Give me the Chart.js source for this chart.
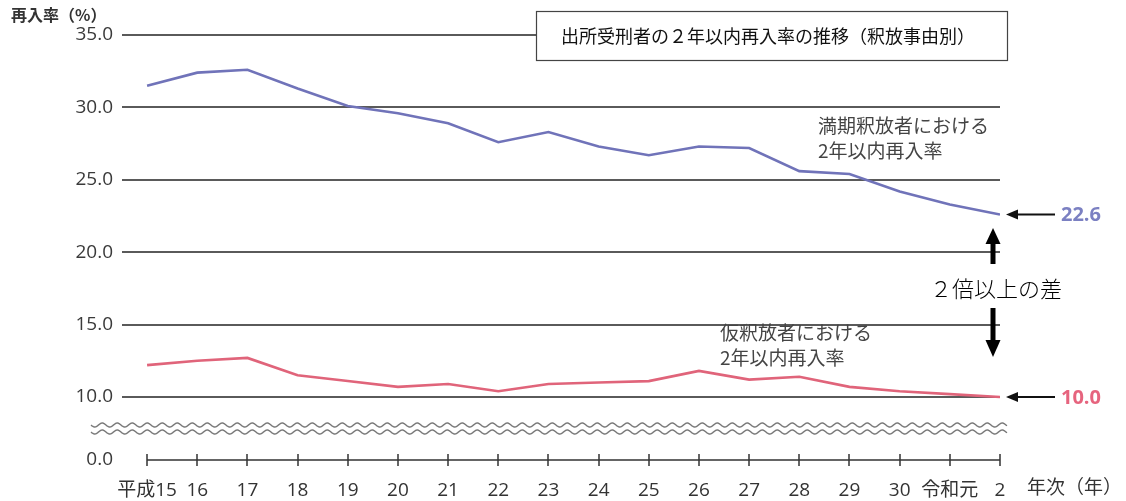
<!DOCTYPE html>
<html><head><meta charset="utf-8">
<script src="https://cdn.jsdelivr.net/npm/chart.js@4"></script>
<style>html,body{margin:0;padding:0;background:#fff}</style>
</head><body>
<canvas id="c" width="1126" height="501"></canvas>
<script>
const years = ['平成15','16','17','18','19','20','21','22','23','24','25','26','27','28','29','30','令和元','2'];
const expiryRates = [31.5,32.4,32.6,31.3,30.1,29.6,28.9,27.6,28.3,27.3,26.7,27.3,27.2,25.6,25.4,24.2,23.3,22.6];
const paroleRates = [12.2,12.5,12.7,11.5,11.1,10.7,10.9,10.4,10.9,11.0,11.1,11.8,11.2,11.4,10.7,10.4,10.2,10.0];
const yTickValues = [10,15,20,25,30,35];
const yBreakBottom = 5.65; // where "0.0" sits after the axis break
const yMax = 35;

const FONT = '"Open Sans","Noto Sans CJK JP",sans-serif';
const JFONT = '"Noto Sans CJK JP",sans-serif';
const BLUE = '#7073b9';
const RED = '#e0647a';

const deco = {
  id: 'deco',
  beforeDatasetsDraw(chart) {
    const {ctx, scales: {x, y}} = chart;
    const yb = y.getPixelForValue(yBreakBottom);
    const y10 = y.getPixelForValue(10);
    const mid = (yb + y10) / 2;
    ctx.save();
    // wavy break lines
    ctx.strokeStyle = '#777';
    ctx.lineWidth = 1.4;
    [mid - 3.5, mid + 3.5].forEach(cy => {
      ctx.beginPath();
      for (let px = 91; px <= 1007; px += 0.5) {
        const py = cy + 2 * Math.sin((px - 91) / 15 * Math.PI * 2);
        if (px === 91) ctx.moveTo(px, py); else ctx.lineTo(px, py);
      }
      ctx.stroke();
    });
    // x axis line with ticks
    ctx.strokeStyle = '#333';
    ctx.lineWidth = 1.5;
    const x0 = x.getPixelForValue(0), x1 = x.getPixelForValue(years.length - 1);
    ctx.beginPath();
    ctx.moveTo(x0, yb); ctx.lineTo(x1, yb);
    years.forEach((_, i) => {
      const px = Math.round(x.getPixelForValue(i));
      ctx.moveTo(px, yb - 6); ctx.lineTo(px, yb + 6);
    });
    ctx.stroke();
    ctx.restore();
  },
  afterDraw(chart) {
    const {ctx, scales: {x, y}} = chart;
    ctx.save();
    // axis title
    ctx.fillStyle = '#333';
    ctx.font = 'bold 16px ' + JFONT;
    ctx.textBaseline = 'middle';
    ctx.textAlign = 'left';
    ctx.fillText('再入率（%）', 11, 15);
    // x axis unit
    ctx.font = '19px ' + JFONT;
    ctx.fillText('年次（年）', 1027, 487);
    // title box
    ctx.fillStyle = '#fff';
    ctx.fillRect(536, 11, 471, 49);
    ctx.strokeStyle = '#444';
    ctx.lineWidth = 1.2;
    ctx.strokeRect(536.5, 11.5, 471, 49);
    ctx.fillStyle = '#111';
    ctx.font = '18px ' + JFONT;
    ctx.textAlign = 'center';
    ctx.fillText('出所受刑者の２年以内再入率の推移（釈放事由別）', 768, 36);
    // series annotations
    ctx.textAlign = 'left';
    ctx.fillStyle = '#444';
    ctx.font = '19px ' + JFONT;
    ctx.fillText('満期釈放者における', 818, 126);
    ctx.fillText('2年以内再入率', 818, 151);
    ctx.fillText('仮釈放者における', 720, 333);
    ctx.fillText('2年以内再入率', 720, 358);

    const last = years.length - 1;
    const xe = x.getPixelForValue(last);
    const drawLeftArrow = (yv, label, color) => {
      const py = y.getPixelForValue(yv);
      ctx.strokeStyle = '#111';
      ctx.fillStyle = '#111';
      ctx.lineWidth = 2;
      ctx.beginPath(); ctx.moveTo(xe + 14, py); ctx.lineTo(xe + 55, py); ctx.stroke();
      ctx.beginPath(); ctx.moveTo(xe + 6, py); ctx.lineTo(xe + 18, py - 5); ctx.lineTo(xe + 18, py + 5); ctx.closePath(); ctx.fill();
      ctx.fillStyle = color;
      ctx.font = 'bold 20px ' + FONT;
      ctx.textAlign = 'left';
      ctx.fillText(label, xe + 61, py + 1);
    };
    drawLeftArrow(expiryRates[last], expiryRates[last].toFixed(1), '#7b80c2');
    drawLeftArrow(paroleRates[last], paroleRates[last].toFixed(1), '#e6647e');

    // vertical arrows
    const ax = 993;
    ctx.fillStyle = '#000';
    ctx.strokeStyle = '#000';
    ctx.lineWidth = 5;
    ctx.beginPath(); ctx.moveTo(ax, 242); ctx.lineTo(ax, 264); ctx.stroke();
    ctx.beginPath(); ctx.moveTo(ax, 228); ctx.lineTo(ax - 7.5, 244); ctx.lineTo(ax + 7.5, 244); ctx.closePath(); ctx.fill();
    ctx.beginPath(); ctx.moveTo(ax, 308); ctx.lineTo(ax, 342); ctx.stroke();
    ctx.beginPath(); ctx.moveTo(ax, 357); ctx.lineTo(ax - 7.5, 340); ctx.lineTo(ax + 7.5, 340); ctx.closePath(); ctx.fill();
    ctx.font = '300 22px ' + JFONT;
    ctx.textAlign = 'center';
    ctx.fillText('２倍以上の差', 996, 289);
    ctx.restore();
  }
};

new Chart(document.getElementById('c'), {
  type: 'line',
  data: {
    datasets: [
      {label: '満期釈放者', data: expiryRates.map((v, i) => ({x: i, y: v})), borderColor: BLUE, borderWidth: 2.6},
      {label: '仮釈放者', data: paroleRates.map((v, i) => ({x: i, y: v})), borderColor: RED, borderWidth: 2.6}
    ]
  },
  options: {
    responsive: false,
    animation: false,
    devicePixelRatio: 1,
    layout: {padding: {top: 35, right: 126, left: 0, bottom: 0}},
    elements: {point: {radius: 0}, line: {tension: 0}},
    plugins: {legend: {display: false}, tooltip: {enabled: false}},
    scales: {
      x: {
        type: 'linear', min: -0.5, max: years.length - 1,
        afterBuildTicks: s => { s.ticks = years.map((_, i) => ({value: i})); },
        afterFit: s => { s.height = 41; },
        ticks: {callback: v => years[v], color: '#333', font: {family: FONT, size: 19}, padding: 11, maxRotation: 0, autoSkip: false},
        grid: {display: false},
        border: {display: false}
      },
      y: {
        min: yBreakBottom, max: yMax,
        afterBuildTicks: s => { s.ticks = [{value: yBreakBottom}].concat(yTickValues.map(v => ({value: v}))); },
        afterFit: s => { s.width = 122; },
        ticks: {callback: v => v === yBreakBottom ? '0.0' : v.toFixed(1), color: '#3a3a3a', font: {family: FONT, size: 19}, padding: 9},
        grid: {drawTicks: false, lineWidth: 2, color: c => (c.tick && c.tick.value === yBreakBottom) ? 'rgba(0,0,0,0)' : '#5a5a5a'},
        border: {display: false}
      }
    }
  },
  plugins: [deco]
});
</script>
</body></html>
